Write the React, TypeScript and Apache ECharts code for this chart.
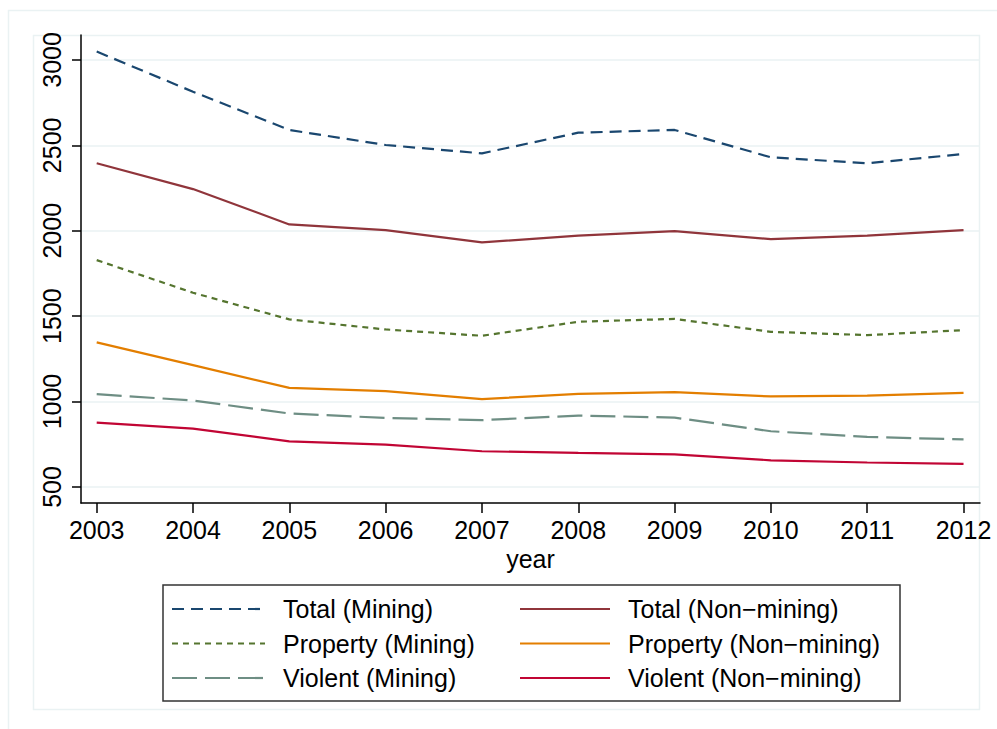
import React, { useEffect, useRef } from "react";
import * as echarts from "echarts";

// Crime rates by year, mining vs non-mining areas
const years = [2003, 2004, 2005, 2006, 2007, 2008, 2009, 2010, 2011, 2012];
const yTicks = [500, 1000, 1500, 2000, 2500, 3000];

const totalMining = [3049, 2814, 2590, 2502, 2453, 2574, 2590, 2430, 2395, 2449];
const totalNonMining = [2395, 2244, 2037, 2004, 1932, 1971, 1998, 1951, 1971, 2004];
const propertyMining = [1828, 1637, 1481, 1422, 1385, 1467, 1484, 1408, 1389, 1418];
const propertyNonMining = [1346, 1213, 1080, 1061, 1014, 1045, 1055, 1030, 1035, 1051];
const violentMining = [1043, 1006, 930, 904, 891, 918, 906, 826, 793, 778];
const violentNonMining = [877, 841, 767, 748, 709, 699, 691, 656, 643, 635];

const FONT = "'Liberation Sans', Arial, Helvetica, sans-serif";
const FONT_SIZE = 25;

type SeriesDef = { name: string; values: number[]; color: string; dash: number[] | null };

// Order follows the legend: left column = mining, right column = non-mining
const seriesDefs: SeriesDef[] = [
  { name: "Total (Mining)", values: totalMining, color: "#1a476f", dash: [12, 7] },
  { name: "Total (Non\u2212mining)", values: totalNonMining, color: "#90353b", dash: null },
  { name: "Property (Mining)", values: propertyMining, color: "#55752f", dash: [6, 5] },
  { name: "Property (Non\u2212mining)", values: propertyNonMining, color: "#e37e00", dash: null },
  { name: "Violent (Mining)", values: violentMining, color: "#6e8e84", dash: [25, 8] },
  { name: "Violent (Non\u2212mining)", values: violentNonMining, color: "#c10534", dash: null },
];

function pairs(vals: number[]) {
  return years.map((y, i) => [y, vals[i]]);
}

// Legend key: two columns, three rows, inside a framed box
function legendGraphics() {
  const colLineX = [172, 520];
  const lineLen = [93, 90];
  const textGap = 18;
  const rowY = [609, 643.5, 678];
  const els: any[] = [
    { type: "rect", shape: { x: 163, y: 585, width: 737, height: 116 }, style: { fill: "none", stroke: "#333", lineWidth: 1.5 }, silent: true },
  ];
  seriesDefs.forEach((s, i) => {
    const col = i % 2;
    const row = Math.floor(i / 2);
    const x0 = colLineX[col];
    const y = rowY[row];
    els.push({
      type: "line",
      shape: { x1: x0, y1: y, x2: x0 + lineLen[col], y2: y },
      style: { stroke: s.color, lineWidth: 2.2, lineDash: s.dash || undefined },
      silent: true,
    });
    els.push({
      type: "text",
      x: x0 + lineLen[col] + textGap,
      y,
      style: { text: s.name, fontFamily: FONT, fontSize: FONT_SIZE, fill: "#000", verticalAlign: "middle", align: "left" },
      silent: true,
    });
  });
  return els;
}

export default function App() {
  const ref = useRef<HTMLDivElement>(null);

  useEffect(() => {
    if (!ref.current) return;
    const chart = echarts.init(ref.current, undefined, { renderer: "svg" });

    chart.setOption({
      animation: false,
      backgroundColor: "#fff",
      textStyle: { fontFamily: FONT },
      grid: { left: 81, right: 17, top: 35, bottom: 226 },
      xAxis: {
        type: "value",
        min: 2002.837,
        max: 2012.171,
        name: "year",
        nameLocation: "middle",
        nameGap: 40,
        nameTextStyle: { fontFamily: FONT, fontSize: FONT_SIZE, color: "#000" },
        axisLine: { show: true, lineStyle: { color: "#000", width: 1.5 } },
        axisTick: { show: true, length: 10, lineStyle: { color: "#000", width: 1.5 }, customValues: years },
        axisLabel: { fontFamily: FONT, fontSize: FONT_SIZE, color: "#000", margin: 14, customValues: years, formatter: (v: number) => String(v) },
        splitLine: { show: false },
      },
      yAxis: {
        type: "value",
        min: 406,
        max: 3146,
        axisLine: { show: true, lineStyle: { color: "#000", width: 1.5 } },
        axisTick: { show: true, length: 9, lineStyle: { color: "#000", width: 1.5 }, customValues: yTicks },
        axisLabel: { fontFamily: FONT, fontSize: FONT_SIZE, color: "#000", rotate: 90, margin: 17, customValues: yTicks, formatter: (v: number) => String(v) },
        splitLine: { show: true, lineStyle: { color: "#eaf2f3", width: 1.5 } },
      },
      graphic: [
        { type: "rect", shape: { x: 8.5, y: 10.5, width: 1000, height: 730 }, style: { fill: "none", stroke: "#eaf2f3", lineWidth: 1.5 }, silent: true, z: -10 },
        { type: "rect", shape: { x: 33.5, y: 35.5, width: 946, height: 674 }, style: { fill: "none", stroke: "#eaf2f3", lineWidth: 1.5 }, silent: true, z: -10 },
        ...legendGraphics(),
      ],
      series: seriesDefs.map((s) => ({
        name: s.name,
        type: "line",
        data: pairs(s.values),
        symbol: "none",
        showSymbol: false,
        lineStyle: { color: s.color, width: 2.2, type: s.dash || "solid" },
        itemStyle: { color: s.color },
      })),
    });

    return () => chart.dispose();
  }, []);

  return <div ref={ref} style={{ position: "fixed", left: 0, top: 0, width: 997, height: 729 }} />;
}
